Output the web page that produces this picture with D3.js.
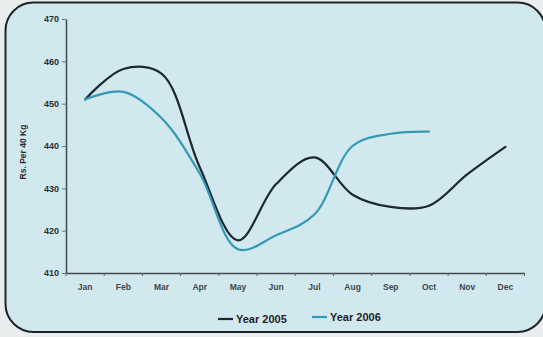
<!DOCTYPE html>
<html>
<head>
<meta charset="utf-8">
<script src="https://cdn.jsdelivr.net/npm/d3@7"></script>
<style>
  html, body { margin: 0; padding: 0; background: #e9edee; }
  svg { display: block; }
</style>
</head>
<body>
<svg id="chart" width="543" height="337"></svg>
<script>
// Monthly prices, Rs. per 40 Kg
const months = ["Jan", "Feb", "Mar", "Apr", "May", "Jun", "Jul", "Aug", "Sep", "Oct", "Nov", "Dec"];
const year2005 = [451, 458.2, 457.1, 435, 417.7, 431, 437.3, 428.5, 425.6, 425.9, 433.3, 439.8];
const year2006 = [451, 452.8, 446.6, 433.5, 415.6, 418.9, 423.8, 440, 442.9, 443.4];
const yTicks = [410, 420, 430, 440, 450, 460, 470];
const seriesNames = ["Year 2005", "Year 2006"];
const seriesColors = ["#1d2731", "#3499b4"];

const svg = d3.select("#chart");

// rounded panel
svg.append("rect")
  .attr("x", 5.5).attr("y", 2.5)
  .attr("width", 540).attr("height", 329.5)
  .attr("rx", 28).attr("ry", 28)
  .attr("fill", "#d1e8ee")
  .attr("stroke", "#1e2427")
  .attr("stroke-width", 2);

const plot = { left: 66, right: 524.5, top: 19, bottom: 273 };

const x = d3.scaleBand().domain(months).range([plot.left, plot.right]).padding(0);
const xc = m => x(m) + x.bandwidth() / 2;
const y = d3.scaleLinear().domain([410, 470]).range([plot.bottom, plot.top]);

// y axis
const yAxis = svg.append("g")
  .attr("transform", `translate(${plot.left},0)`)
  .call(d3.axisLeft(y).tickValues(yTicks).tickSize(4).tickPadding(3).tickSizeOuter(0));
yAxis.select(".domain").attr("stroke", "#3e4a50").attr("stroke-width", 1.5);
yAxis.selectAll(".tick line").attr("stroke", "#6a777c");
yAxis.selectAll(".tick text")
  .attr("font-family", "Liberation Sans, Arial, sans-serif")
  .attr("font-size", 9).attr("font-weight", "bold").attr("fill", "#2c2f31");

// x axis: labels centred in each month, tick marks on the month boundaries
const xAxis = svg.append("g")
  .attr("transform", `translate(0,${plot.bottom})`)
  .call(d3.axisBottom(x).tickSize(0).tickPadding(11).tickSizeOuter(0));
xAxis.select(".domain").attr("stroke", "#3e4a50").attr("stroke-width", 1.5);
xAxis.selectAll(".tick text")
  .attr("font-family", "Liberation Sans, Arial, sans-serif")
  .attr("font-size", 8.5).attr("font-weight", "bold").attr("fill", "#41474a");
xAxis.selectAll(".boundary")
  .data(months.concat(["end"]))
  .join("line")
  .attr("class", "boundary")
  .attr("x1", (d, i) => plot.left + i * x.step())
  .attr("x2", (d, i) => plot.left + i * x.step())
  .attr("y1", 0).attr("y2", 3)
  .attr("stroke", "#55636a");

// y axis title
svg.append("text")
  .attr("transform", "translate(26,152) rotate(-90)")
  .attr("text-anchor", "middle")
  .attr("font-family", "Liberation Sans, Arial, sans-serif")
  .attr("font-size", 8.5).attr("font-weight", "bold").attr("fill", "#2c2f31")
  .text("Rs. Per 40 Kg");

// smoothed lines
const line = d3.line()
  .x((d, i) => xc(months[i]))
  .y(d => y(d))
  .curve(d3.curveCatmullRom.alpha(0.5));

[year2005, year2006].forEach((vals, k) => {
  svg.append("path")
    .datum(vals)
    .attr("d", line)
    .attr("fill", "none")
    .attr("stroke", seriesColors[k])
    .attr("stroke-width", 2.2)
    .attr("stroke-linecap", "round")
    .attr("stroke-linejoin", "round");
});

// legend
const legendPos = [{ x: 218, y: 319 }, { x: 312, y: 317 }];
seriesNames.forEach((name, k) => {
  const g = svg.append("g").attr("transform", `translate(${legendPos[k].x},${legendPos[k].y})`);
  g.append("line")
    .attr("x1", 0).attr("x2", 15).attr("y1", 0).attr("y2", 0)
    .attr("stroke", seriesColors[k]).attr("stroke-width", 2.2);
  g.append("text")
    .attr("x", 18).attr("y", 4)
    .attr("font-family", "Liberation Sans, Arial, sans-serif")
    .attr("font-size", 11).attr("font-weight", "bold").attr("fill", "#1f2326")
    .text(name);
});
</script>
</body>
</html>
